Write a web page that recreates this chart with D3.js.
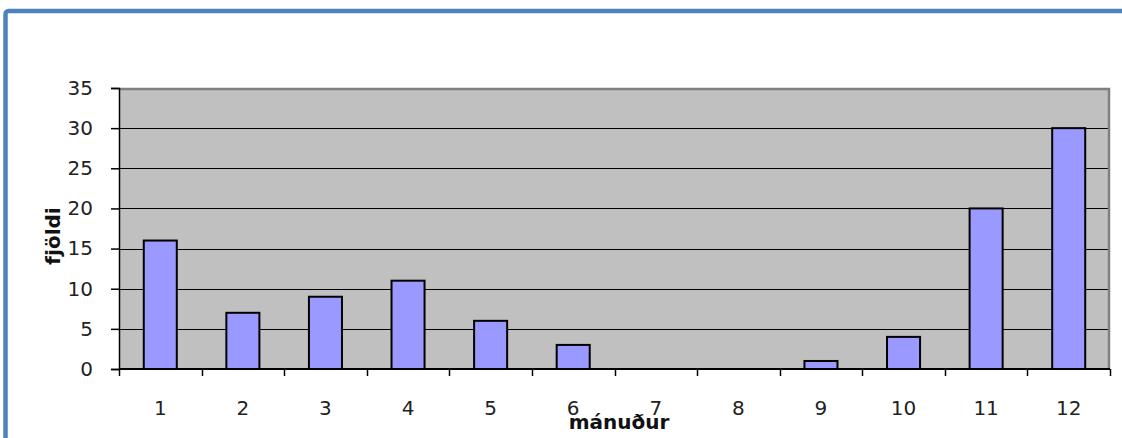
<!DOCTYPE html>
<html>
<head>
<meta charset="utf-8">
<script src="https://cdn.jsdelivr.net/npm/d3@7"></script>
<style>
  body { margin: 0; background: #fff; }
  svg { display: block; font-family: "DejaVu Sans", Verdana, sans-serif; }
</style>
</head>
<body>
<script>
// data
const months = ["1", "2", "3", "4", "5", "6", "7", "8", "9", "10", "11", "12"];
const counts = [16, 7, 9, 11, 6, 3, 0, 0, 1, 4, 20, 30];
const yTicks = [0, 5, 10, 15, 20, 25, 30, 35];
const xTitle = "mánuður";
const yTitle = "fjöldi";

const width = 1122, height = 438;
const margin = {top: 88, right: 12, bottom: 69, left: 119};

const svg = d3.select("body").append("svg")
    .attr("width", width)
    .attr("height", height);

// outer frame (cut off on right and bottom in the original)
svg.append("rect")
    .attr("x", 5.5).attr("y", 11)
    .attr("width", width + 20).attr("height", height + 20)
    .attr("rx", 3)
    .attr("fill", "none")
    .attr("stroke", "#4F81BD")
    .attr("stroke-width", 4.5);

const x = d3.scaleBand()
    .domain(months)
    .range([margin.left, width - margin.right])
    .paddingInner(0.6)
    .paddingOuter(0.3);

const y = d3.scaleLinear()
    .domain([0, 35])
    .range([height - margin.bottom, margin.top]);

// plot area
svg.append("rect")
    .attr("x", margin.left)
    .attr("y", margin.top)
    .attr("width", width - margin.right - margin.left)
    .attr("height", y(0) - margin.top)
    .attr("fill", "#C0C0C0");

// gridlines
svg.append("g")
    .selectAll("line")
    .data(yTicks.filter(d => d > 0 && d < 35))
    .join("line")
    .attr("x1", margin.left)
    .attr("x2", width - margin.right)
    .attr("y1", d => Math.round(y(d)) + 0.5)
    .attr("y2", d => Math.round(y(d)) + 0.5)
    .attr("stroke", "#000")
    .attr("stroke-width", 1);

// plot area border top/right
svg.append("path")
    .attr("d", `M${margin.left},${margin.top + 1}H${width - margin.right - 1}V${y(0)}`)
    .attr("fill", "none")
    .attr("stroke", "#808080")
    .attr("stroke-width", 2.5);

// bars
svg.append("g")
    .selectAll("rect")
    .data(counts.map((v, i) => ({m: months[i], v})).filter(d => d.v > 0))
    .join("rect")
    .attr("x", d => x(d.m))
    .attr("width", x.bandwidth())
    .attr("y", d => y(d.v))
    .attr("height", d => y(0) - y(d.v))
    .attr("fill", "#9999FF")
    .attr("stroke", "#000")
    .attr("stroke-width", 2);

// y axis
const yAxis = svg.append("g")
    .attr("transform", `translate(${margin.left},0)`)
    .call(d3.axisLeft(y).tickValues(yTicks).tickSize(8).tickPadding(18));
yAxis.select(".domain").attr("stroke", "#000").attr("stroke-width", 1.5);
yAxis.selectAll(".tick line").attr("stroke", "#000").attr("stroke-width", 1.5);
yAxis.selectAll("text")
    .attr("font-size", 20)
    .attr("fill", "#222")
    .attr("font-family", "DejaVu Sans, Verdana, sans-serif");

// x axis: ticks at category boundaries
const boundaries = d3.range(months.length + 1).map(i => margin.left + i * (width - margin.right - margin.left) / months.length);
const xAxis = svg.append("g");
xAxis.append("line")
    .attr("x1", margin.left).attr("x2", width - margin.right)
    .attr("y1", y(0)).attr("y2", y(0))
    .attr("stroke", "#000").attr("stroke-width", 2);
xAxis.selectAll(".tk")
    .data(boundaries)
    .join("line")
    .attr("class", "tk")
    .attr("x1", d => Math.round(d) + 0.5).attr("x2", d => Math.round(d) + 0.5)
    .attr("y1", y(0)).attr("y2", y(0) + 7)
    .attr("stroke", "#000").attr("stroke-width", 1.5);
xAxis.selectAll("text")
    .data(months)
    .join("text")
    .attr("x", d => x(d) + x.bandwidth() / 2)
    .attr("y", 415)
    .attr("text-anchor", "middle")
    .attr("font-size", 20)
    .attr("fill", "#222")
    .text(d => d);

// axis titles (they overlap the tick labels in the original too)
svg.append("text")
    .attr("x", 619)
    .attr("y", 429)
    .attr("text-anchor", "middle")
    .attr("font-size", 20)
    .attr("font-weight", "bold")
    .attr("fill", "#111")
    .text(xTitle);

svg.append("text")
    .attr("transform", "translate(60,236) rotate(-90)")
    .attr("text-anchor", "middle")
    .attr("font-size", 20)
    .attr("font-weight", "bold")
    .attr("fill", "#111")
    .text(yTitle);
</script>
</body>
</html>
